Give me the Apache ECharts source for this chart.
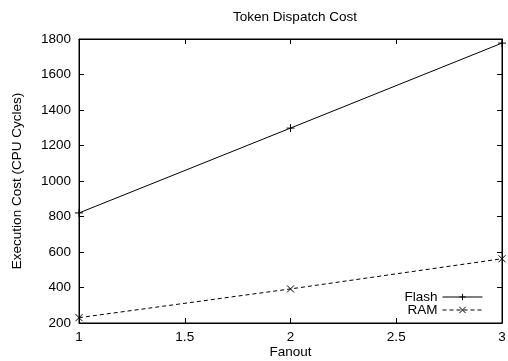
<!DOCTYPE html>
<html><head><meta charset="utf-8">
<script src="https://cdn.jsdelivr.net/npm/echarts@6/dist/echarts.min.js"></script>
<style>html,body{margin:0;padding:0;background:#fff}#c{width:508px;height:361px}</style>
</head><body><div id="c"></div>
<script>
const fanout = [1, 2, 3];
const flash = [820, 1298, 1777];
const ram = [230, 392, 562];
const xTicks = [1, 1.5, 2, 2.5, 3];
const yTicks = [200, 400, 600, 800, 1000, 1200, 1400, 1600, 1800];

const font = 'Liberation Sans, Arial, Helvetica, sans-serif';
const fs = 13.5;
const chart = echarts.init(document.getElementById('c'), null, {renderer: 'canvas'});
const plus = 'path://M5,0L5,10M0,5L10,5';
const cross = 'path://M0,0L10,10M10,0L0,10';
const tickCommon = {show: true, inside: true, length: 5, lineStyle: {color: '#000', width: 1}};
chart.setOption({
  animation: false,
  backgroundColor: '#fff',
  title: {text: 'Token Dispatch Cost', left: 290, top: 5, textAlign: 'center',
    textStyle: {fontFamily: font, fontSize: fs, fontWeight: 'normal', color: '#000'}},
  grid: {left: 79, right: 6, top: 39, bottom: 38, show: true, borderColor: '#000', borderWidth: 1,
    containLabel: false, outerBoundsMode: 'none'},
  legend: {
    right: 20, bottom: 39, orient: 'vertical', align: 'right', itemWidth: 40, itemHeight: 8, itemGap: -1,
    textStyle: {fontFamily: font, fontSize: fs, lineHeight: 12, color: '#000'},
    lineStyle: {width: 1},
    itemStyle: {borderWidth: 1},
    data: ['Flash', 'RAM']
  },
  xAxis: [{
    type: 'value', min: 1, max: 3, interval: 0.5,
    name: 'Fanout', nameLocation: 'middle', nameGap: 22, nameMoveOverlap: false,
    nameTextStyle: {fontFamily: font, fontSize: fs, color: '#000'},
    axisLine: {show: true, lineStyle: {color: '#000'}},
    axisTick: tickCommon,
    splitLine: {show: false},
    axisLabel: {fontFamily: font, fontSize: fs, color: '#000', margin: 7,
      formatter: v => String(v)}
  }, {
    type: 'value', min: 1, max: 3, interval: 0.5, position: 'top',
    axisLine: {show: true, lineStyle: {color: '#000'}},
    axisTick: tickCommon, axisLabel: {show: false}, splitLine: {show: false}
  }],
  yAxis: [{
    type: 'value', min: 200, max: 1800, interval: 200,
    name: 'Execution Cost (CPU Cycles)', nameLocation: 'middle', nameGap: 55, nameMoveOverlap: false,
    nameTextStyle: {fontFamily: font, fontSize: fs, color: '#000'},
    axisLine: {show: true, lineStyle: {color: '#000'}},
    axisTick: tickCommon,
    splitLine: {show: false},
    axisLabel: {fontFamily: font, fontSize: fs, color: '#000', margin: 8,
      formatter: v => String(v)}
  }, {
    type: 'value', min: 200, max: 1800, interval: 200, position: 'right',
    axisLine: {show: true, lineStyle: {color: '#000'}},
    axisTick: tickCommon, axisLabel: {show: false}, splitLine: {show: false}
  }],
  series: [{
    name: 'Flash', type: 'line', data: fanout.map((x, i) => [x, flash[i]]),
    symbol: plus, symbolSize: 8, showSymbol: true,
    lineStyle: {color: '#000', width: 1},
    itemStyle: {color: '#000', borderColor: '#000', borderWidth: 1}
  }, {
    name: 'RAM', type: 'line', data: fanout.map((x, i) => [x, ram[i]]),
    symbol: cross, symbolSize: 7, showSymbol: true,
    lineStyle: {color: '#000', width: 1, type: [4, 3]},
    itemStyle: {color: '#000', borderColor: '#000', borderWidth: 1}
  }]
});
</script></body></html>
